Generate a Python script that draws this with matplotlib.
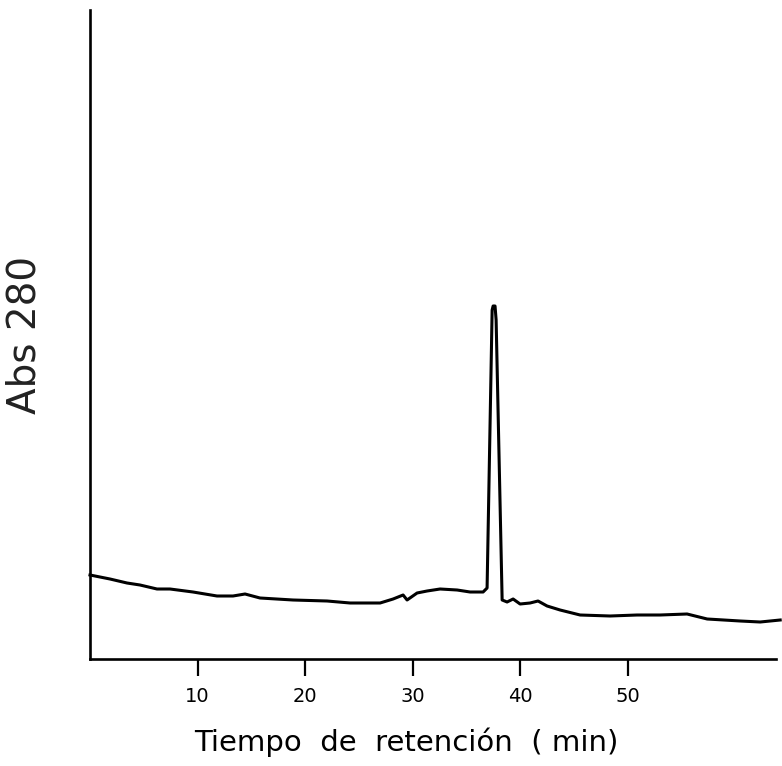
import matplotlib
matplotlib.use("Agg")
import matplotlib.pyplot as plt

# Retention time (min) and absorbance (arbitrary units)
time_min = [0.0, 1.86, 3.44, 4.65, 6.23, 7.44, 9.58, 11.81, 13.3, 14.42, 15.81,
            18.88, 22.05, 24.19, 26.98, 28.19, 29.12, 29.49, 30.42, 31.35, 32.56,
            34.14, 35.35, 36.56, 36.93, 37.4, 37.49, 37.67, 37.77, 38.33, 38.79,
            39.35, 40.0, 40.93, 41.67, 42.51, 43.72, 45.58, 48.37, 50.88, 53.02,
            55.53, 57.4, 60.47, 62.33, 64.19]
abs280 = [84, 80, 76, 74, 70, 70, 67, 63, 63, 65, 61,
          59, 58, 56, 56, 60, 64, 59, 66, 68, 70,
          69, 67, 67, 71, 349, 353, 353, 339, 59, 57,
          60, 55, 56, 58, 53, 49, 44, 43, 44, 44,
          45, 40, 38, 37, 39]

xticks = [10, 20, 30, 40, 50]
xlabel = "Tiempo  de  retención  ( min)"
ylabel = "Abs 280"

fig = plt.figure(figsize=(7.82, 7.66), dpi=100)
ax = fig.add_axes([90/782, (766-659)/766, (776-90)/782, (659-10)/766])

ax.plot(time_min, abs280, color="black", lw=2.2, clip_on=False,
        solid_joinstyle="round")

ax.set_xlim(0, 63.8)
ax.set_ylim(0, 649)

for s in ["top", "right"]:
    ax.spines[s].set_visible(False)
for s in ["left", "bottom"]:
    ax.spines[s].set_linewidth(1.9)
    ax.spines[s].set_color("black")

ax.set_xticks(xticks)
ax.set_xticklabels([str(t) for t in xticks], fontsize=14, fontweight="medium")
ax.tick_params(axis="x", direction="out", length=12, width=1.6, pad=8)
ax.set_yticks([])

fig.text(406/782, 1 - 742/766, xlabel, ha="center", va="center",
         fontsize=21)
fig.text(24/782, 1 - 335/766, ylabel, ha="center", va="center",
         rotation=90, fontsize=28, color="#222222")

fig.savefig("out.png", dpi=100)
